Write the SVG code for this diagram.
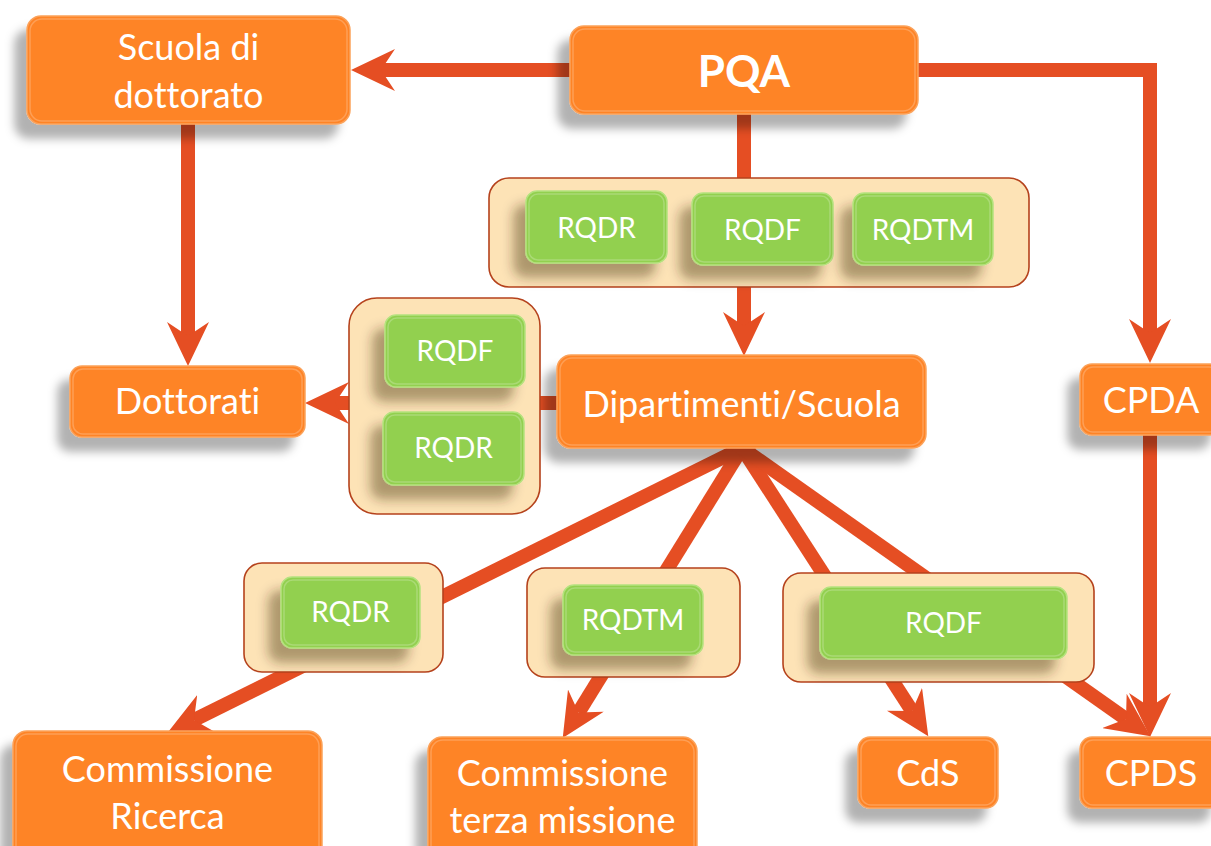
<svg xmlns="http://www.w3.org/2000/svg" width="1211" height="846" viewBox="0 0 1211 846">
  <defs>
    <filter id="shadow" x="-20%" y="-20%" width="140%" height="160%">
      <feDropShadow dx="-12" dy="14" stdDeviation="5" flood-color="#000" flood-opacity="0.3"/>
    </filter>
    <filter id="shadow-deep" x="-30%" y="-30%" width="160%" height="180%">
      <feDropShadow dx="-12" dy="14" stdDeviation="6" flood-color="#3A2A10" flood-opacity="0.4"/>
    </filter>
    <marker id="head" viewBox="0 0 44 42" markerUnits="userSpaceOnUse" markerWidth="44" markerHeight="42" refX="14" refY="21" orient="auto">
      <path d="M0,0 L44,21 L0,42 L14,21 Z" fill="#E54E23"/>
    </marker>
    <style>
      .wire { fill: none; stroke: #E54E23; stroke-width: 14; stroke-linejoin: miter; }
      .orange { fill: #FE8428; stroke: #FBA25A; stroke-width: 1.5; filter: url(#shadow); }
      .green { fill: #92D050; stroke: #B5E27F; stroke-width: 1.5; filter: url(#shadow-deep); }
      .gloss { fill: none; stroke: #FFFFFF; stroke-opacity: 0.22; stroke-width: 1.5; }
      .panel { fill: #FDE3B6; stroke: #B5421C; stroke-width: 1.6; }
      .lbl { fill: #FFFFFF; font-family: Lato, "Open Sans", "Liberation Sans", sans-serif; text-anchor: middle; font-variant-ligatures: none; font-feature-settings: "liga" 0; }
      .big { font-size: 36px; }
      .small { font-size: 28px; }
      .bold { font-size: 44px; font-weight: bold; }
    </style>
  </defs>

  <!-- connectors -->
  <g id="connectors">
    <line class="wire" x1="570" y1="70" x2="381" y2="70" marker-end="url(#head)"/>
    <path class="wire" d="M918,70 H1150 V333" marker-end="url(#head)"/>
    <line class="wire" x1="744" y1="114" x2="744" y2="326" marker-end="url(#head)"/>
    <line class="wire" x1="188" y1="124" x2="188" y2="336" marker-end="url(#head)"/>
    <line class="wire" x1="557" y1="403" x2="335" y2="403" marker-end="url(#head)"/>
    <line class="wire" x1="1150" y1="435" x2="1150" y2="707" marker-end="url(#head)"/>
    <line class="wire" x1="752.7" y1="442.7" x2="194" y2="720" marker-end="url(#head)"/>
    <line class="wire" x1="748.3" y1="437.9" x2="578.5" y2="712.5" marker-end="url(#head)"/>
    <line class="wire" x1="735.5" y1="437.9" x2="912" y2="711" marker-end="url(#head)"/>
    <line class="wire" x1="732.2" y1="441.1" x2="1126" y2="719" marker-end="url(#head)"/>
  </g>

  <g id="scuola-dottorato">
    <rect class="orange" x="27" y="16" width="323" height="108" rx="14"/>
    <rect class="gloss" x="30" y="19" width="317" height="102" rx="12"/>
    <text class="lbl big" x="188.5" y="60">Scuola di</text>
    <text class="lbl big" x="188.5" y="108">dottorato</text>
  </g>

  <g id="pqa">
    <rect class="orange" x="570" y="26" width="348" height="88" rx="14"/>
    <rect class="gloss" x="573" y="29" width="342" height="82" rx="12"/>
    <text class="lbl bold" x="744" y="87">PQA</text>
  </g>

  <g id="referenti-ateneo">
    <rect class="panel" x="489" y="178" width="540" height="109" rx="20"/>
    <g id="rqdr-ateneo">
      <rect class="green" x="526" y="191" width="141" height="72" rx="11"/>
      <rect class="gloss" x="529" y="194" width="135" height="66" rx="9"/>
      <text class="lbl small" x="596.5" y="238">RQDR</text>
    </g>
    <g id="rqdf-ateneo">
      <rect class="green" x="692" y="193" width="141" height="72" rx="11"/>
      <rect class="gloss" x="695" y="196" width="135" height="66" rx="9"/>
      <text class="lbl small" x="762.5" y="240">RQDF</text>
    </g>
    <g id="rqdtm-ateneo">
      <rect class="green" x="853" y="193" width="140" height="72" rx="11"/>
      <rect class="gloss" x="856" y="196" width="134" height="66" rx="9"/>
      <text class="lbl small" x="923" y="240">RQDTM</text>
    </g>
  </g>

  <g id="dipartimenti">
    <rect class="orange" x="557" y="355" width="369" height="93" rx="14"/>
    <rect class="gloss" x="560" y="358" width="363" height="87" rx="12"/>
    <text class="lbl big" x="741.5" y="417">Dipartimenti/Scuola</text>
  </g>

  <g id="referenti-dottorati">
    <rect class="panel" x="349" y="298" width="191" height="216" rx="28"/>
    <g id="rqdf-dottorati">
      <rect class="green" x="385" y="315" width="140" height="72" rx="11"/>
      <rect class="gloss" x="388" y="318" width="134" height="66" rx="9"/>
      <text class="lbl small" x="455" y="361">RQDF</text>
    </g>
    <g id="rqdr-dottorati">
      <rect class="green" x="383" y="412" width="141" height="73" rx="11"/>
      <rect class="gloss" x="386" y="415" width="135" height="67" rx="9"/>
      <text class="lbl small" x="453.5" y="458">RQDR</text>
    </g>
  </g>

  <g id="dottorati">
    <rect class="orange" x="70" y="366" width="235" height="71" rx="12"/>
    <rect class="gloss" x="73" y="369" width="229" height="65" rx="10"/>
    <text class="lbl big" x="187.5" y="414">Dottorati</text>
  </g>

  <g id="cpda">
    <rect class="orange" x="1080" y="364" width="142" height="71" rx="12"/>
    <rect class="gloss" x="1083" y="367" width="136" height="65" rx="10"/>
    <text class="lbl big" x="1151" y="413">CPDA</text>
  </g>

  <g id="referente-ricerca">
    <rect class="panel" x="244" y="563" width="199" height="109" rx="18"/>
    <rect class="green" x="281" y="577" width="139" height="71" rx="11"/>
    <rect class="gloss" x="284" y="580" width="133" height="65" rx="9"/>
    <text class="lbl small" x="350.5" y="622">RQDR</text>
  </g>

  <g id="referente-terza-missione">
    <rect class="panel" x="527" y="568" width="213" height="109" rx="18"/>
    <rect class="green" x="563" y="585" width="140" height="70" rx="11"/>
    <rect class="gloss" x="566" y="588" width="134" height="64" rx="9"/>
    <text class="lbl small" x="633" y="630">RQDTM</text>
  </g>

  <g id="referente-formazione">
    <rect class="panel" x="783" y="573" width="311" height="109" rx="18"/>
    <rect class="green" x="820" y="587" width="247" height="72" rx="11"/>
    <rect class="gloss" x="823" y="590" width="241" height="66" rx="9"/>
    <text class="lbl small" x="943.5" y="633">RQDF</text>
  </g>

  <g id="commissione-ricerca">
    <rect class="orange" x="13" y="731" width="309" height="130" rx="14"/>
    <rect class="gloss" x="16" y="734" width="303" height="124" rx="12"/>
    <text class="lbl big" x="167.5" y="782">Commissione</text>
    <text class="lbl big" x="167.5" y="829">Ricerca</text>
  </g>

  <g id="commissione-terza-missione">
    <rect class="orange" x="428" y="737" width="269" height="125" rx="14"/>
    <rect class="gloss" x="431" y="740" width="263" height="119" rx="12"/>
    <text class="lbl big" x="562.5" y="786">Commissione</text>
    <text class="lbl big" x="562.5" y="833">terza missione</text>
  </g>

  <g id="cds">
    <rect class="orange" x="858" y="737" width="140" height="71" rx="12"/>
    <rect class="gloss" x="861" y="740" width="134" height="65" rx="10"/>
    <text class="lbl big" x="928" y="786">CdS</text>
  </g>

  <g id="cpds">
    <rect class="orange" x="1080" y="737" width="142" height="71" rx="12"/>
    <rect class="gloss" x="1083" y="740" width="136" height="65" rx="10"/>
    <text class="lbl big" x="1151" y="786">CPDS</text>
  </g>
</svg>
